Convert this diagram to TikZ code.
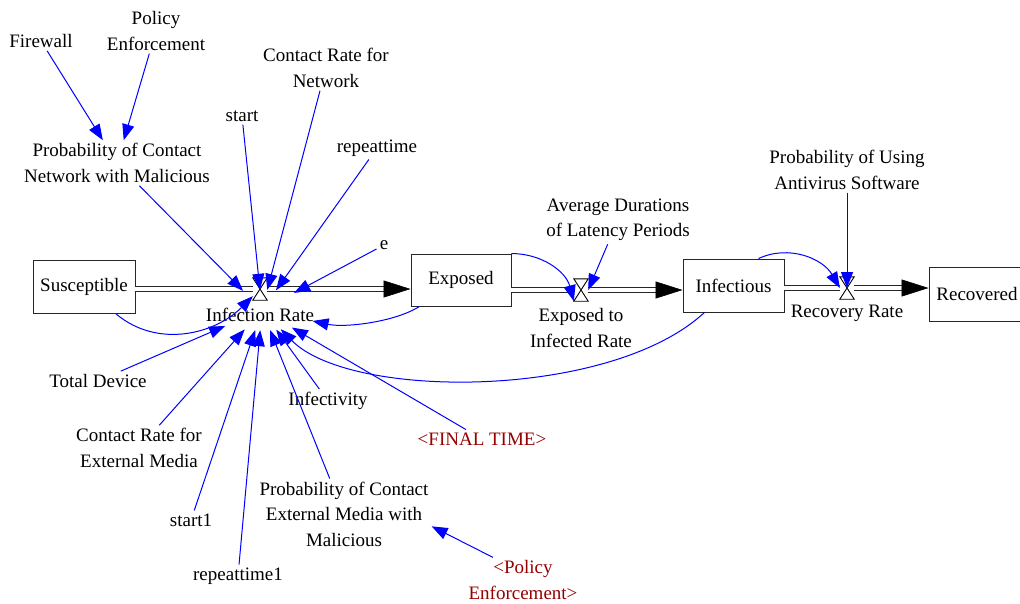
\documentclass[tikz,border=0pt]{standalone}
\usepackage{fontspec}
\setmainfont{Liberation Serif}
\usetikzlibrary{arrows.meta,shapes.geometric}
\definecolor{vblue}{RGB}{0,0,255}
\definecolor{vred}{RGB}{150,0,0}
\begin{document}
\begin{tikzpicture}[x=1pt,y=1pt,
  every node/.style={font=\fontsize{19}{25.5}\selectfont, inner sep=3pt},
  var/.style={align=center},
  shadowvar/.style={align=center, text=vred},
  stock/.style={draw=black!85, line width=0.9pt, minimum height=53pt, minimum width=101pt, inner sep=0pt},
  valve/.style={minimum width=14pt, minimum height=22pt, inner sep=0pt, fill=white},
  pipe/.style={draw=black!85, double=white, double distance=3.4pt, line width=1.1pt},
  flowhead/.style={draw=black, line width=0.6pt, -{Triangle[length=27pt,width=17pt]}},
  link/.style={draw=vblue, line width=1pt, -{Triangle[length=16pt,width=12pt]}},
  target/.style={ellipse, minimum width=120pt, minimum height=40pt, inner sep=0pt}
]
\useasboundingbox (0,0) rectangle (1020,-603);
\fill[white] (0,0) rectangle (1020,-603);

% stocks
\node[stock, minimum width=102pt] (S) at (84,-287) {Susceptible};
\node[stock, minimum width=100pt, minimum height=52pt] (E) at (461,-280) {Exposed};
\node[stock] (I) at (733.5,-285.5) {Infectious};
\node[stock, minimum width=96pt, minimum height=54pt] (R) at (977,-294) {Recovered};

% flow positions
\coordinate (p1) at (260,-289);
\coordinate (p2) at (581,-290);
\coordinate (p3) at (847,-288);

% pipes
\draw[pipe, shorten >=12pt] (S.east |- p1) -- (E.west |- p1);
\draw[pipe, shorten >=12pt] (E.east |- p2) -- (I.west |- p2);
\draw[pipe, shorten >=12pt] (I.east |- p3) -- (R.west |- p3);
\path (E.west |- p1) coordinate (h1);
\path (I.west |- p2) coordinate (h2);
\path (R.west |- p3) coordinate (h3);
\draw[flowhead] ([xshift=-27pt]h1) -- (h1);
\draw[flowhead] ([xshift=-27pt]h2) -- (h2);
\draw[flowhead] ([xshift=-27pt]h3) -- (h3);

% valves
\node[valve] (v1) at (p1) {};
\node[valve] (v2) at (p2) {};
\node[valve] (v3) at (p3) {};
\foreach \v in {v1,v2,v3}
  \draw[line width=0.9pt] (\v.north west) -- (\v.north east) -- (\v.south west) -- (\v.south east) -- cycle;

% rate labels
\node[var] (irl) at (260,-315) {Infection Rate};
\node[target] (ir) at (262,-310) {};
\node[var] (eirl) at (581,-328) {Exposed to\\Infected Rate};
\node[var] (rrl) at (847,-313) {Recovery Rate};

% auxiliaries
\node[var] (fw) at (41,-41) {Firewall};
\node[var] (pol) at (156,-31) {Policy\\Enforcement};
\node[var] (crn) at (326,-68) {Contact Rate for\\Network};
\node[var] (st) at (242,-116) {start};
\node[var] (rep) at (377,-148) {repeattime};
\node[var] (pnet) at (117,-163) {Probability of Contact\\Network with Malicious};
\node[var] (ee) at (384,-245) {e};
\node[var] (avg) at (618,-220) {Average Durations\\of Latency Periods};
\node[var] (anti) at (847,-170) {Probability of Using\\Antivirus Software};
\node[var] (td) at (98,-381) {Total Device};
\node[var] (crem) at (139,-448) {Contact Rate for\\External Media};
\node[var] (inf) at (328,-401) {Infectivity};
\node[shadowvar] (ft) at (482,-439) {<FINAL TIME>};
\node[var] (st1) at (191,-520) {start1};
\node[var] (pem) at (344,-514) {Probability of Contact\\External Media with\\Malicious};
\node[var] (rep1) at (238,-576) {repeattime1};
\node[shadowvar] (pol2) at (523,-580) {<Policy\\Enforcement>};

% links
\draw[link] (fw) -- (pnet);
\draw[link] (pol) -- (pnet);
\draw[link] (pnet) -- (ir);
\draw[link] (st) -- (ir);
\draw[link] (crn) -- (ir);
\draw[link] (rep) -- (ir);
\draw[link] (ee) -- (ir);
\draw[link] (S) to[out=-40,in=225] (v1);
\draw[link] (E) .. controls (395,-322) and (345,-328) .. (ir);
\draw[link] (I) .. controls (610,-400) and (350,-400) .. (ir);
\draw[link] (td) -- (ir);
\draw[link] (crem) -- (ir);
\draw[link] (st1) -- (ir);
\draw[link] (rep1) -- (ir);
\draw[link] (pem) -- (ir);
\draw[link] (inf) -- (ir);
\draw[link] (ft) -- (ir);
\draw[link] (pol2.143) -- (pem.-8);
\draw[link] (avg) -- (v2.east);
\draw[link] (E.north east) to[out=0,in=105] (v2.south west);
\draw[link] ([xshift=25pt]I.north) to[out=25,in=120] (v3.west);
\draw[link] (anti) -- (v3.center);
\end{tikzpicture}
\end{document}
